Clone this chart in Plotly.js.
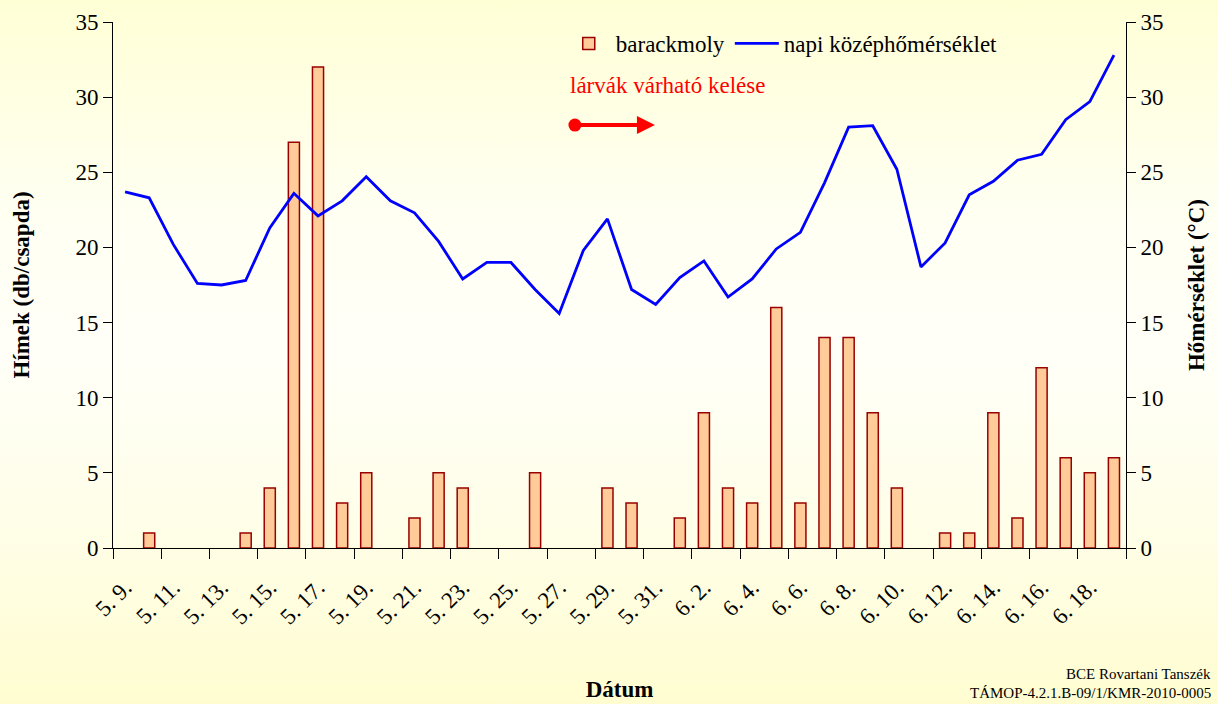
<!DOCTYPE html>
<html>
<head>
<meta charset="utf-8">
<script src="https://cdn.plot.ly/plotly-3.0.1.min.js"></script>
<style>
html,body{margin:0;padding:0;}
body{width:1218px;height:704px;overflow:hidden;
background:linear-gradient(to bottom,#FFFFD6 0%,#FFFFF2 30%,#FFFFF8 50%,#FFFEE8 75%,#FFFDD0 100%);}
#chart{width:1218px;height:704px;}
</style>
</head>
<body>
<div id="chart"></div>
<script>
// Dates (categories)
const dates = [
  "5. 9.","5. 10.","5. 11.","5. 12.","5. 13.","5. 14.","5. 15.","5. 16.","5. 17.","5. 18.",
  "5. 19.","5. 20.","5. 21.","5. 22.","5. 23.","5. 24.","5. 25.","5. 26.","5. 27.","5. 28.",
  "5. 29.","5. 30.","5. 31.","6. 1.","6. 2.","6. 3.","6. 4.","6. 5.","6. 6.","6. 7.",
  "6. 8.","6. 9.","6. 10.","6. 11.","6. 12.","6. 13.","6. 14.","6. 15.","6. 16.","6. 17.",
  "6. 18.","6. 19."
];
// barackmoly males per trap
const barackmoly = [
  0,1,0,0,0,1,4,27,32,3,
  5,0,2,5,4,0,0,5,0,0,
  4,3,0,2,9,4,3,16,3,14,
  14,9,4,0,1,1,9,2,12,6,
  5,6
];
// daily mean temperature (°C)
const homerseklet = [
  23.7,23.3,20.2,17.6,17.5,17.8,21.3,23.6,22.1,23.1,
  24.7,23.1,22.3,20.4,17.9,19.0,19.0,17.2,15.6,19.8,
  21.9,17.2,16.2,18.0,19.1,16.7,17.9,19.9,21.0,24.3,
  28.0,28.1,25.2,18.7,20.3,23.5,24.4,25.8,26.2,28.5,
  29.7,32.8
];
const yTicks = [0,5,10,15,20,25,30,35];

const FONT = "Liberation Serif, Times New Roman, Times, serif";

// zero counts draw no bar (as in the original)
const barY = barackmoly.map(v => (v === 0 ? null : v));

const traces = [
  {
    type: "bar", name: "barackmoly", x: dates, y: barY,
    marker: {color: "#FFCC99", line: {color: "#990000", width: 1.5}},
    width: 0.46, yaxis: "y"
  },
  {
    type: "scatter", mode: "lines", name: "napi középhőmérséklet",
    x: dates, y: homerseklet, yaxis: "y2",
    line: {color: "#0000FF", width: 2.8}
  }
];

const layout = {
  width: 1218, height: 704,
  paper_bgcolor: "rgba(0,0,0,0)", plot_bgcolor: "rgba(0,0,0,0)",
  margin: {l: 113, r: 92, t: 22, b: 156},
  font: {family: FONT, size: 23, color: "#000"},
  showlegend: true,
  legend: {
    orientation: "h", x: 0.443, y: 1.0, xanchor: "left", yanchor: "top",
    bgcolor: "rgba(0,0,0,0)", font: {family: FONT, size: 23, color: "#000"},
    itemwidth: 44, tracegroupgap: 0
  },
  xaxis: {
    type: "category", range: [-0.5, 41.5], automargin: false,
    tickmode: "linear", tick0: 0, dtick: 2, tickson: "boundaries",
    tickangle: -45, ticks: "outside", ticklen: 10, tickcolor: "#000", tickwidth: 1,
    ticklabelstandoff: 16,
    showline: true, linecolor: "#000", linewidth: 1, showgrid: false, zeroline: false,
    tickfont: {family: FONT, size: 23, color: "#000"},
    title: {text: "<b>Dátum</b>", font: {family: FONT, size: 23}, standoff: 52},
    fixedrange: true
  },
  yaxis: {
    range: [0, 35], tickmode: "array", tickvals: yTicks, automargin: false,
    ticks: "outside", ticklen: 9, tickcolor: "#000",
    showline: true, linecolor: "#000", linewidth: 1, showgrid: false, zeroline: false,
    tickfont: {family: FONT, size: 23, color: "#000"},
    title: {text: "<b>Hímek (db/csapda)</b>", font: {family: FONT, size: 23}, standoff: 39}
  },
  yaxis2: {
    range: [0, 35], tickmode: "array", tickvals: yTicks, automargin: false,
    overlaying: "y", side: "right",
    ticks: "outside", ticklen: 9, tickcolor: "#000",
    showline: true, linecolor: "#000", linewidth: 1, showgrid: false, zeroline: false,
    tickfont: {family: FONT, size: 23, color: "#000"},
    title: {text: "<b>Hőmérséklet (°C)</b>", font: {family: FONT, size: 23}, standoff: 25}
  },
  annotations: [
    {
      xref: "paper", yref: "paper", x: 0.449, y: 0.88, xanchor: "left", yanchor: "middle",
      text: "lárvák várható kelése", showarrow: false,
      font: {family: FONT, size: 23, color: "#FF0000"}
    },
    {
      xref: "paper", yref: "paper", x: 0.535, y: 0.804, ax: -80, ay: 0,
      axref: "pixel", ayref: "pixel",
      text: "", showarrow: true, arrowhead: 2, arrowsize: 0.9, arrowwidth: 4,
      arrowcolor: "#FF0000", standoff: 0, startstandoff: 0
    },
    {
      xref: "paper", yref: "paper", x: 1.086, y: -0.2395, xanchor: "right", yanchor: "middle",
      text: "BCE Rovartani Tanszék", showarrow: false,
      font: {family: FONT, size: 15, color: "#000"}
    },
    {
      xref: "paper", yref: "paper", x: 1.086, y: -0.2757, xanchor: "right", yanchor: "middle",
      text: "TÁMOP-4.2.1.B-09/1/KMR-2010-0005", showarrow: false,
      font: {family: FONT, size: 15, color: "#000"}
    }
  ],
  shapes: [
    {
      type: "circle", xref: "paper", yref: "paper",
      xsizemode: "pixel", ysizemode: "pixel",
      xanchor: 0.456, yanchor: 0.804,
      x0: -6.5, x1: 6.5, y0: -6.5, y1: 6.5,
      fillcolor: "#FF0000", line: {color: "#FF0000", width: 0}
    }
  ]
};

Plotly.newPlot("chart", traces, layout, {displayModeBar: false, staticPlot: true});
</script>
</body>
</html>
